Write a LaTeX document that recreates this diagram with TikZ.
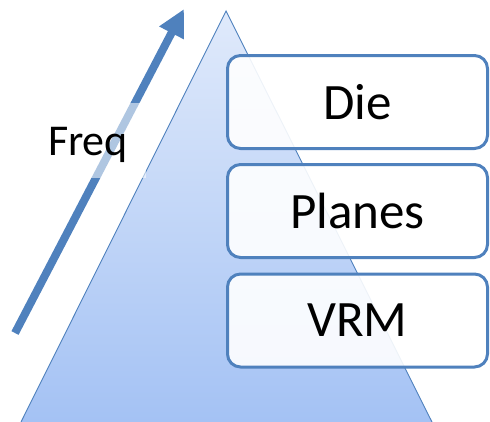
\documentclass[tikz,border=0pt]{standalone}
\usepackage{fontspec}
\setmainfont{Carlito}
\usetikzlibrary{arrows.meta}
\definecolor{accent}{HTML}{4F81BD}
\definecolor{pyrtop}{HTML}{E0EAFB}
\definecolor{pyrbot}{HTML}{A4C2F4}
\tikzset{
  layerbox/.style={draw=accent, line width=3pt, rounded corners=13pt,
    fill=white, fill opacity=0.9, text opacity=1,
    minimum width=260pt, minimum height=93pt, inner sep=0pt,
    font=\fontsize{51}{56}\selectfont},
  freqarrow/.style={draw=accent, line width=8pt,
    -{Triangle[width=26pt,length=27pt]}},
}
\begin{document}
\begin{tikzpicture}[x=1pt,y=-1pt]
  \useasboundingbox (0,0) rectangle (490,421);
  % pyramid
  \coordinate (apex) at (226,11);
  \coordinate (baseL) at (21,422);
  \coordinate (baseR) at (432,422);
  \shade[top color=pyrtop, bottom color=pyrbot] (apex) -- (baseR) -- (baseL) -- cycle;
  \draw[accent, line width=0.9pt] (baseL) -- (apex) -- (baseR);
  % frequency arrow
  \coordinate (freqlow) at (15,333);
  \coordinate (freqhigh) at (184,9);
  \draw[freqarrow] (freqlow) -- (freqhigh);
  % label with translucent backing
  \fill[white, opacity=0.55] (40,103) rectangle (146,178);
  \node[anchor=base, font=\fontsize{44}{48}\selectfont, inner sep=0pt] (freq) at (88,155) {Freq};
  % layers
  \node[layerbox] (die) at (357.5,102) {Die};
  \node[layerbox] (planes) at (357.5,211) {Planes};
  \node[layerbox] (vrm) at (357.5,320.5) {VRM};
\end{tikzpicture}
\end{document}
